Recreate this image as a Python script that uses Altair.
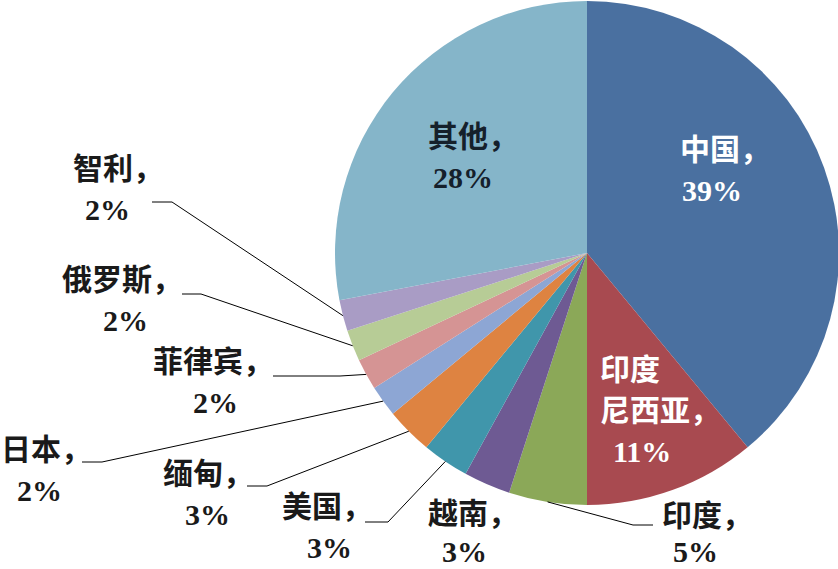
import math
import altair as alt
import pandas as pd

# ---- data ----
countries = ["中国", "印度尼西亚", "印度", "越南", "美国", "缅甸", "日本", "菲律宾", "俄罗斯", "智利", "其他"]
shares = [39, 11, 5, 3, 3, 3, 2, 2, 2, 2, 28]
name_lines = [["中国，"], ["印度", "尼西亚，"], ["印度，"], ["越南，"], ["美国，"], ["缅甸，"],
              ["日本，"], ["菲律宾，"], ["俄罗斯，"], ["智利，"], ["其他，"]]

# ---- style / layout ----
colors = ["#4A70A0", "#A84A50", "#8BA858", "#6E5A93", "#4096AB", "#DE8341",
          "#8DA6D4", "#D59494", "#B7CC96", "#A99CC5", "#85B5C9"]
CX, CY, R = 587, 253, 252
FONT = "Liberation Serif, Noto Sans CJK SC"
FS = 30
LINE_GAP = 41
gap_override = {"印度": 36, "越南": 38}
# left edge of each label line and vertical centre of first line
label_left = {
    "中国": [680, 682], "印度尼西亚": [600, 600, 613], "印度": [662, 673],
    "越南": [428, 442], "美国": [282, 307], "缅甸": [163, 185], "日本": [1, 17],
    "菲律宾": [153, 193], "俄罗斯": [62, 103], "智利": [73, 85], "其他": [428, 433],
}
label_top = {
    "中国": 151, "印度尼西亚": 371, "印度": 517, "越南": 515, "美国": 508,
    "缅甸": 475, "日本": 451, "菲律宾": 363, "俄罗斯": 281, "智利": 170, "其他": 138,
}
inside = {"中国": "#FFFFFF", "印度尼西亚": "#FFFFFF", "其他": "#15202B"}
# leader lines: (start x, elbow x, y of horizontal part)
leaders = {
    "智利": (152, 172, 202), "俄罗斯": (182, 201, 294), "菲律宾": (273, 340, 376),
    "日本": (82, 102, 462), "缅甸": (247, 267, 486), "美国": (365, 388, 522),
    "印度": (653, 633, 525),
}

pie_df = pd.DataFrame({"country": countries, "share": shares, "idx": range(len(countries))})

# text rows
rows = []
for c, s, nl in zip(countries, shares, name_lines):
    lines = nl + [f"{s}%"]
    lefts = label_left[c]
    gap = gap_override.get(c, LINE_GAP)
    for i, t in enumerate(lines):
        rows.append({"t": t, "x": lefts[i], "y": label_top[c] + i * gap,
                     "col": inside.get(c, "#1A1A1A")})
text_df = pd.DataFrame(rows)

# leader rows: slice edge point computed from cumulative shares
total = sum(shares)
cum = 0
mid_angle = {}
for c, s in zip(countries, shares):
    mid_angle[c] = (cum + s / 2) / total * 2 * math.pi
    cum += s
lrows = []
for c, (x0, x1, yl) in leaders.items():
    a = mid_angle[c]
    ex, ey = CX + R * math.sin(a), CY - R * math.cos(a)
    lrows += [{"c": c, "k": 0, "x": x0, "y": yl},
              {"c": c, "k": 1, "x": x1, "y": yl},
              {"c": c, "k": 2, "x": ex, "y": ey}]
lead_df = pd.DataFrame(lrows)

pie = alt.Chart(pie_df).mark_arc(outerRadius=R).encode(
    theta=alt.Theta("share:Q", stack=True),
    order=alt.Order("idx:Q"),
    color=alt.Color("country:N", scale=alt.Scale(domain=countries, range=colors), legend=None),
    x=alt.value(CX),
    y=alt.value(CY),
)

lines = alt.Chart(lead_df).mark_line(color="#000000", strokeWidth=1).encode(
    x=alt.X("x:Q", scale=None, axis=None),
    y=alt.Y("y:Q", scale=None, axis=None),
    detail="c:N",
    order="k:Q",
)

labels = alt.Chart(text_df).mark_text(
    align="left", baseline="middle", font=FONT, fontSize=FS, fontWeight="bold"
).encode(
    x=alt.X("x:Q", scale=None, axis=None),
    y=alt.Y("y:Q", scale=None, axis=None),
    text="t:N",
    color=alt.Color("col:N", scale=None),
)

chart = alt.layer(pie, lines, labels).properties(
    width=838, height=569, autosize="none", padding=0, background="#FFFFFF"
).configure_view(stroke=None)

chart.save("out.html", embed_options={"renderer": "svg", "actions": False})
